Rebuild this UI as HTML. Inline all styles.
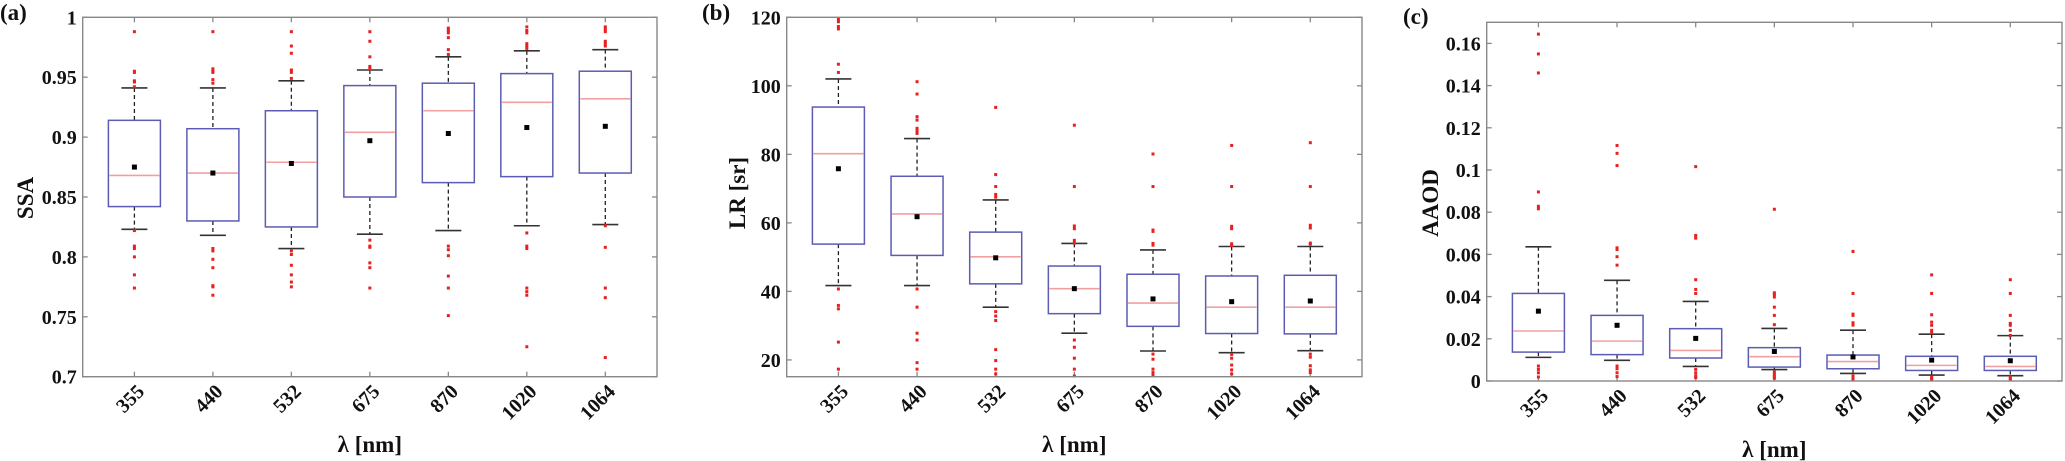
<!DOCTYPE html>
<html><head><meta charset="utf-8"><style>
html,body{margin:0;padding:0;background:#fff;}
svg{display:block;}
text{font-family:"Liberation Serif",serif;font-weight:bold;fill:#111;}
</style></head><body>
<svg id="fig" width="2065" height="461" viewBox="0 0 2065 461" xmlns="http://www.w3.org/2000/svg"></svg>
<script>
const categories = ["355","440","532","675","870","1020","1064"];
// Panel (a) SSA
const ssaWhiskerHigh = [0.941,0.941,0.947,0.956,0.967,0.972,0.973];
const ssaQ3 = [0.914,0.907,0.922,0.943,0.945,0.953,0.955];
const ssaMedian = [0.868,0.870,0.879,0.904,0.922,0.929,0.932];
const ssaQ1 = [0.842,0.830,0.825,0.850,0.862,0.867,0.870];
const ssaWhiskerLow = [0.823,0.818,0.807,0.819,0.822,0.826,0.827];
const ssaMean = [0.875,0.870,0.878,0.897,0.903,0.908,0.909];
const ssaOutliers = [
 [0.988,0.955,0.954,0.947,0.946,0.942,0.822,0.809,0.807,0.800,0.785,0.774],
 [0.988,0.957,0.955,0.954,0.948,0.945,0.807,0.805,0.798,0.791,0.776,0.775,0.768],
 [0.988,0.976,0.970,0.956,0.954,0.949,0.805,0.802,0.793,0.785,0.779,0.775],
 [0.988,0.980,0.967,0.959,0.957,0.814,0.809,0.808,0.795,0.791,0.774],
 [0.991,0.989,0.987,0.983,0.973,0.969,0.809,0.806,0.801,0.784,0.774,0.751],
 [0.992,0.989,0.987,0.978,0.976,0.974,0.820,0.809,0.807,0.774,0.771,0.768,0.725],
 [0.992,0.990,0.988,0.980,0.978,0.976,0.826,0.808,0.774,0.766,0.716]];
const ssaTicks = ["0.7","0.75","0.8","0.85","0.9","0.95","1"];
// Panel (b) LR
const lrWhiskerHigh = [102,84.6,66.7,54.0,52.1,53.1,53.1];
const lrQ3 = [93.8,73.6,57.3,47.4,45.0,44.5,44.7];
const lrMedian = [80.2,62.6,50.1,40.8,36.6,35.4,35.4];
const lrQ1 = [53.8,50.5,42.2,33.5,29.8,27.7,27.6];
const lrWhiskerLow = [41.7,41.7,35.4,27.8,22.6,22.1,22.7];
const lrMean = [75.8,61.8,49.8,40.8,37.8,37.0,37.2];
const lrOutliers = [
 [119.5,118.7,117.3,116.6,106.3,103.9,40.7,35.9,34.9,25.2,17.3],
 [101.2,97.6,91.0,90.0,87.6,86.8,86.1,40.7,35.4,27.8,25.8,19.2,17.3],
 [93.7,74.1,70.6,68.3,67.5,34.1,32.8,31.5,23.0,19.8,17.3,15.9],
 [88.5,70.6,59.1,58.3,54.9,54.1,25.8,23.7,20.5,17.3,15.3],
 [80.1,70.6,57.9,57.5,54.0,53.5,21.7,20.2,17.3,16.3,15.5],
 [82.6,70.6,59.0,58.3,53.9,53.4,21.6,20.5,18.5,17.1,15.9],
 [83.4,70.6,59.3,58.5,54.1,53.8,21.7,20.8,18.3,17.1,16.3]];
const lrTicks = ["20","40","60","80","100","120"];
// Panel (c) AAOD
const aaodWhiskerHigh = [0.0636,0.0477,0.0377,0.0249,0.0241,0.0222,0.0215];
const aaodQ3 = [0.0415,0.0311,0.0248,0.0158,0.0123,0.0117,0.0117];
const aaodMedian = [0.0237,0.0189,0.0145,0.0115,0.0092,0.0074,0.0069];
const aaodQ1 = [0.0137,0.0125,0.0109,0.0066,0.0058,0.0050,0.0050];
const aaodWhiskerLow = [0.0112,0.0098,0.0069,0.0054,0.0036,0.0028,0.0025];
const aaodMean = [0.0331,0.0264,0.0202,0.0140,0.0114,0.0099,0.0096];
const aaodOutliers = [
 [0.1644,0.155,0.146,0.0896,0.0828,0.0816,0.0071,0.0055,0.0039,0.0019],
 [0.1116,0.1079,0.1021,0.0631,0.0623,0.0589,0.0549,0.0071,0.0058,0.0039,0.0021],
 [0.1016,0.0690,0.0677,0.048,0.0434,0.0415,0.0055,0.0039,0.0024,0.0016],
 [0.0814,0.0418,0.041,0.0398,0.035,0.0311,0.0267,0.0043,0.0032,0.0021,0.0013],
 [0.0614,0.0415,0.0317,0.0311,0.0276,0.0265,0.0024,0.0014,0.0006],
 [0.0503,0.0415,0.0314,0.0279,0.0264,0.024,0.0229,0.0019,0.0011,0.0005],
 [0.048,0.0415,0.0311,0.0273,0.0264,0.024,0.0216,0.0019,0.0011,0.0005]];
const aaodTicks = ["0","0.02","0.04","0.06","0.08","0.1","0.12","0.14","0.16"];

const NS="http://www.w3.org/2000/svg";
const svg=document.getElementById('fig');
function mk(tag,attrs,parent){const e=document.createElementNS(NS,tag);for(const k in attrs)e.setAttribute(k,attrs[k]);(parent||svg).appendChild(e);return e;}

function panel(o){
  const g=mk('g',{});
  
  
  const L=o.left,R=o.right,T=o.top,B=o.bottom;
  const y=v=>B-(v-o.ymin)/(o.ymax-o.ymin)*(B-T);
  const step=(R-L-103.4)/6;
  const x=i=>L+51.7+i*step;
  // ticks
  o.ticks.forEach(t=>{const v=parseFloat(t),yy=y(v);
    mk('line',{x1:L,x2:L+5,y1:yy,y2:yy,stroke:'#888','stroke-width':1.3},g);
    mk('line',{x1:R,x2:R-5,y1:yy,y2:yy,stroke:'#888','stroke-width':1.3},g);
    const tx=mk('text',{x:L-6,y:yy+7,'text-anchor':'end','font-size':20},g);tx.textContent=t;
    
    
  });
  categories.forEach((c,i)=>{const xx=x(i);
    mk('line',{x1:xx,x2:xx,y1:B,y2:B-5,stroke:'#888','stroke-width':1.3},g);
    mk('line',{x1:xx,x2:xx,y1:T,y2:T+5,stroke:'#888','stroke-width':1.3},g);
    const tx=mk('text',{'text-anchor':'end','font-size':20,transform:`translate(${xx+11},${B+16}) rotate(-45)`},g);tx.textContent=c;
    
    
  });
  // boxes
  categories.forEach((c,i)=>{const xx=x(i);
    const bg=mk('g',{},g);
    
    
    mk('line',{x1:xx,x2:xx,y1:y(o.wh[i]),y2:y(o.q3[i]),stroke:'#222','stroke-width':1.3,'stroke-dasharray':'4,3'},bg);
    mk('line',{x1:xx,x2:xx,y1:y(o.q1[i]),y2:y(o.wl[i]),stroke:'#222','stroke-width':1.3,'stroke-dasharray':'4,3'},bg);
    mk('line',{x1:xx-13,x2:xx+13,y1:y(o.wh[i]),y2:y(o.wh[i]),stroke:'#333','stroke-width':1.6},bg);
    mk('line',{x1:xx-13,x2:xx+13,y1:y(o.wl[i]),y2:y(o.wl[i]),stroke:'#333','stroke-width':1.6},bg);
    mk('rect',{x:xx-26,y:y(o.q3[i]),width:52,height:y(o.q1[i])-y(o.q3[i]),fill:'none',stroke:'#5c5cb4','stroke-width':1.5},bg);
    mk('line',{x1:xx-25,x2:xx+25,y1:y(o.med[i]),y2:y(o.med[i]),stroke:'#f0a0a0','stroke-width':1.6},bg);
    o.out[i].forEach(v=>{const r=mk('rect',{x:xx-1.5,y:y(v)-1.5,width:3,height:3,fill:'#e82020'},bg);
      
      });
    const m=mk('rect',{x:xx-2.5,y:y(o.mean[i])-2.5,width:5,height:5,fill:'#000'},bg);
    
    
  });
  mk('rect',{x:L,y:T,width:R-L,height:B-T,fill:'none',stroke:'#888','stroke-width':1.4},g);
  const yl=mk('text',{'text-anchor':'middle','font-size':23,transform:`translate(${o.ylx},${o.yly}) rotate(-90)`},g);yl.textContent=o.ylabel;
  
  
  const xl=mk('text',{x:(L+R)/2,y:o.xly,'text-anchor':'middle','font-size':23},g);xl.textContent='λ [nm]';
  
  
  const pl=mk('text',{x:o.plx,y:o.ply,'font-size':23},g);pl.textContent=o.plabel;
  
  
}
panel({name:'ssa-panel',left:82.7,right:657,top:17.3,bottom:376.7,ymin:0.7,ymax:1.0,ticks:ssaTicks,
 wh:ssaWhiskerHigh,q3:ssaQ3,med:ssaMedian,q1:ssaQ1,wl:ssaWhiskerLow,mean:ssaMean,out:ssaOutliers,
 ylabel:'SSA',ylx:33,yly:198,xly:452,plabel:'(a)',plx:0,ply:20});
panel({name:'lr-panel',left:786.7,right:1362,top:17.3,bottom:376.7,ymin:15.1,ymax:120,ticks:lrTicks,
 wh:lrWhiskerHigh,q3:lrQ3,med:lrMedian,q1:lrQ1,wl:lrWhiskerLow,mean:lrMean,out:lrOutliers,
 ylabel:'LR [sr]',ylx:745,yly:193,xly:452,plabel:'(b)',plx:702,ply:20});
panel({name:'aaod-panel',left:1486.7,right:2062,top:22.3,bottom:381,ymin:0,ymax:0.17,ticks:aaodTicks,
 wh:aaodWhiskerHigh,q3:aaodQ3,med:aaodMedian,q1:aaodQ1,wl:aaodWhiskerLow,mean:aaodMean,out:aaodOutliers,
 ylabel:'AAOD',ylx:1438,yly:203,xly:457,plabel:'(c)',plx:1403,ply:24});
</script>
</body></html>
